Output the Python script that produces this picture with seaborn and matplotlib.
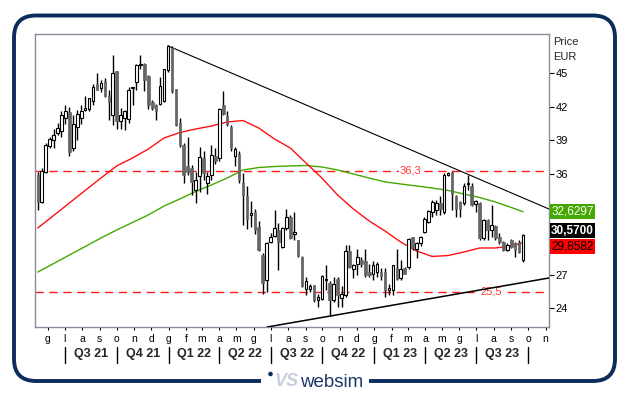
import pandas as pd
import seaborn as sns
import matplotlib
matplotlib.use("Agg")
import matplotlib.pyplot as plt
import matplotlib.transforms as mtransforms
from matplotlib.patches import FancyBboxPatch, Rectangle, Circle

sns.set_style("white")
plt.rcParams['font.family'] = ['Liberation Sans', 'DejaVu Sans']

# weekly candles
first_week = "2021-05-14"
opens = [35.9, 33.5, 36.2, 38.5, 39.0, 39.7, 39.8, 41.0, 41.5, 38.3,
         40.2, 41.0, 41.7, 41.8, 42.5, 44.0, 43.7, 44.3, 43.0, 41.3,
         45.2, 40.7, 41.0, 40.9, 43.7, 44.2, 45.7, 45.85, 44.75, 42.4,
         42.2, 42.3, 42.5, 45.3, 47.3, 43.6, 40.6, 38.6, 36.7, 36.5,
         34.6, 35.8, 37.4, 35.2, 35.9, 37.6, 37.4, 42.2, 41.2, 40.2,
         37.6, 37.8, 35.2, 34.0, 32.3, 32.6, 31.3, 28.8, 26.5, 29.9,
         30.5, 31.0, 29.5, 31.15, 32.2, 30.6, 30.1, 28.6, 25.7, 25.7,
         26.1, 24.7, 24.8, 26.5, 26.3, 24.7, 26.6, 24.9, 25.2, 29.15,
         27.5, 28.0, 28.3, 28.2, 27.2, 27.1, 27.2, 27.2, 27.2, 25.6,
         25.6, 27.6, 26.7, 27.6, 27.7, 30.35, 29.3, 29.8, 30.85, 31.7,
         32.6, 32.8, 33.4, 32.6, 35.9, 36.2, 34.0, 33.5, 33.4, 35.1,
         34.9, 33.3, 33.4, 30.25, 31.9, 31.0, 31.35, 30.4, 29.95, 29.25,
         30.1, 29.8, 29.95, 28.3]
highs = [36.2, 36.5, 38.8, 39.3, 40.0, 40.6, 41.6, 42.2, 42.0, 41.3,
         41.7, 42.2, 43.0, 42.8, 44.0, 45.0, 44.4, 44.6, 43.5, 46.6,
         45.2, 41.9, 41.7, 43.8, 43.8, 45.8, 46.6, 45.9, 44.85, 42.6,
         42.3, 44.7, 45.4, 47.5, 47.45, 43.6, 41.0, 38.75, 39.3, 36.8,
         36.2, 38.4, 38.1, 36.2, 38.6, 38.3, 41.9, 43.4, 41.6, 40.4,
         38.4, 38.1, 36.1, 34.9, 33.6, 32.9, 31.8, 28.9, 29.9, 30.7,
         32.8, 31.65, 31.3, 32.9, 32.3, 32.6, 30.1, 28.65, 26.8, 26.2,
         26.1, 25.3, 27.0, 27.9, 26.4, 26.8, 26.8, 26.0, 29.7, 29.7,
         28.0, 29.3, 28.6, 29.3, 28.0, 28.2, 28.1, 27.6, 27.6, 26.2,
         27.9, 29.3, 28.3, 27.7, 30.3, 30.4, 29.95, 30.5, 32.2, 32.8,
         33.7, 33.7, 34.0, 36.1, 36.2, 36.25, 34.1, 33.6, 35.2, 35.9,
         35.2, 33.7, 33.5, 32.0, 32.0, 33.2, 31.4, 30.7, 30.0, 29.8,
         30.15, 29.95, 30.1, 30.6]
lows = [32.8, 33.4, 36.1, 38.3, 38.3, 39.5, 39.3, 40.5, 37.6, 38.1,
        39.0, 40.5, 41.6, 41.6, 42.2, 43.5, 43.3, 42.9, 40.8, 40.4,
        40.0, 40.0, 39.9, 40.6, 42.2, 43.5, 45.4, 43.4, 41.8, 41.7,
        40.8, 42.2, 42.4, 45.1, 43.2, 40.3, 38.4, 35.2, 35.9, 34.1,
        33.4, 34.4, 35.5, 34.2, 35.5, 36.9, 37.2, 41.3, 40.3, 38.1,
        36.7, 35.2, 31.4, 31.1, 31.3, 30.6, 29.1, 25.3, 25.5, 29.8,
        30.4, 27.4, 29.4, 31.0, 30.2, 30.1, 28.6, 25.9, 25.2, 25.5,
        24.6, 24.1, 24.7, 25.6, 23.3, 24.6, 24.1, 24.1, 25.0, 27.6,
        26.7, 27.0, 27.7, 26.8, 26.8, 26.5, 26.8, 26.5, 25.0, 25.2,
        25.2, 26.5, 26.5, 27.1, 27.5, 29.2, 28.5, 29.6, 30.7, 31.6,
        32.2, 32.3, 32.3, 32.4, 35.8, 32.8, 32.2, 32.2, 33.2, 34.6,
        33.1, 32.6, 30.1, 30.1, 30.1, 30.4, 30.1, 29.75, 29.15, 29.1,
        29.4, 28.55, 28.9, 28.1]
closes = [33.5, 36.3, 38.6, 39.1, 39.5, 40.1, 41.3, 41.6, 38.0, 40.5,
          41.4, 41.6, 41.9, 42.8, 43.8, 43.5, 44.1, 43.0, 42.4, 45.0,
          40.7, 41.3, 41.6, 43.5, 43.8, 45.7, 45.85, 44.4, 42.2, 41.9,
          41.6, 43.9, 45.4, 47.4, 43.4, 40.4, 38.6, 35.9, 36.2, 35.3,
          35.5, 37.5, 36.1, 35.8, 37.7, 37.2, 41.8, 41.4, 40.5, 38.3,
          38.2, 35.5, 34.1, 32.0, 32.5, 31.0, 29.2, 26.3, 29.85, 30.4,
          31.2, 29.9, 31.15, 32.2, 30.3, 30.8, 28.7, 26.0, 26.4, 26.0,
          24.7, 25.0, 26.9, 26.55, 24.7, 26.2, 25.2, 25.3, 29.15, 27.7,
          27.9, 28.6, 27.95, 27.0, 27.0, 27.9, 28.0, 26.9, 25.6, 25.8,
          27.9, 26.6, 27.5, 27.1, 30.2, 29.4, 29.8, 30.4, 32.0, 32.7,
          33.5, 33.4, 32.9, 35.9, 36.05, 34.2, 32.9, 32.9, 34.9, 35.2,
          33.2, 33.6, 30.25, 31.9, 31.0, 31.4, 30.25, 29.9, 29.25, 29.65,
          29.45, 29.2, 29.05, 30.57]

# moving averages, sampled every 4 weeks (+ last week)
ma_weeks = list(range(0, 124, 4)) + [123]
ma_red = [31.18, 32.29, 33.41, 34.53, 35.64, 36.72, 37.43, 38.23, 39.22, 39.71,
          40.02, 40.29, 40.65, 40.78, 40.11, 39.13, 38.32, 36.98, 35.64, 34.12,
          32.87, 31.80, 30.91, 29.92, 29.12, 28.63, 28.72, 29.03, 29.39, 29.39,
          29.57, 29.86]
ma_green = [27.24, 28.00, 28.76, 29.52, 30.28, 31.00, 31.67, 32.34, 33.14, 33.77,
            34.44, 35.02, 35.64, 36.36, 36.58, 36.67, 36.72, 36.76, 36.63, 36.36,
            36.00, 35.64, 35.29, 35.11, 34.93, 34.75, 34.53, 34.21, 33.90, 33.50,
            33.01, 32.63]

# trend lines and horizontal levels
trend_hi_dates = ["2021-12-31", "2023-11-07"]
trend_hi_vals = [47.45, 32.87]
trend_lo_dates = ["2022-06-25", "2023-11-07"]
trend_lo_vals = [22.33, 26.71]
levels = [36.3, 25.5]
level_labels = ["36,3", "25,5"]
level_label_dates = ["2023-03-07", "2023-07-27"]

last_labels = ["32,6297", "30,5700", "29,8582"]

y_ticks = [24, 27, 30, 33, 36, 39, 42, 45]
y_ticklabels = ["24", "27", "", "", "36", "39", "42", "45"]  # 30 and 33 sit under the value boxes
month_labels = ["g", "l", "a", "s", "o", "n", "d", "g", "f", "m", "a", "m",
                "g", "l", "a", "s", "o", "n", "d", "g", "f", "m", "a", "m",
                "g", "l", "a", "s", "o", "n"]
quarter_labels = ["Q3 21", "Q4 21", "Q1 22", "Q2 22", "Q3 22", "Q4 22",
                  "Q1 23", "Q2 23", "Q3 23"]

dates = pd.date_range(first_week, periods=len(closes), freq="7D")
df = pd.DataFrame({"date": dates, "open": opens, "high": highs,
                   "low": lows, "close": closes})
ma = pd.DataFrame({"date": dates[ma_weeks], "red": ma_red, "green": ma_green})

navy = "#0c2c5c"
fig = plt.figure(figsize=(6.29, 3.95), dpi=100, facecolor="white")

# frame, logo (pixel coordinates)
bg = fig.add_axes([0, 0, 1, 1])
bg.set_xlim(0, 629)
bg.set_ylim(395, 0)
bg.axis("off")
bg.add_patch(FancyBboxPatch((14, 15.5), 601, 365.5,
                            boxstyle="round,pad=0,rounding_size=22",
                            fc="none", ec=navy, lw=2.8))
bg.add_patch(Rectangle((261, 374), 108, 14, fc="white", ec="none", zorder=3))
bg.add_patch(Circle((270.5, 374), 2.3, fc=navy, ec="none", zorder=4))
bg.text(286, 382, "VS", ha="center", va="center", fontsize=13,
        fontweight="bold", fontstyle="italic", color="#c5d0de", zorder=4)
bg.text(300, 382.5, "websim", ha="left", va="center", fontsize=13.5,
        color="#1d3868", zorder=4)

ax = fig.add_axes([35 / 629, 1 - 327 / 395, 514 / 629, 293 / 395])
ax.set_facecolor("white")

# moving averages
sns.lineplot(data=ma, x="date", y="green", color="#44a800", lw=1, ax=ax)
sns.lineplot(data=ma, x="date", y="red", color="#ff1010", lw=1, ax=ax)

# levels
for lv, lab, ld in zip(levels, level_labels, level_label_dates):
    ax.axhline(lv, color="#ff1a1a", lw=1, ls=(0, (6, 4)), zorder=1)
    ax.text(pd.Timestamp(ld), lv, lab, ha="center", va="center", fontsize=8,
            color="#ff3a3a", zorder=2,
            bbox=dict(boxstyle="square,pad=0.05", fc="white", ec="none"))

# trend lines
ax.plot(pd.to_datetime(trend_hi_dates), trend_hi_vals, color="black", lw=0.8, zorder=3)
ax.plot(pd.to_datetime(trend_lo_dates), trend_lo_vals, color="black", lw=1.1, zorder=3)

# candles
up = df["close"] >= df["open"]
ax.vlines(df["date"], df["low"], df["high"], color="black", lw=1, zorder=4)
body_lo = df[["open", "close"]].min(axis=1)
body_h = (df["close"] - df["open"]).abs().clip(lower=0.08)
ax.bar(df["date"][up], body_h[up], bottom=body_lo[up], width=4.6,
       color="white", edgecolor="black", lw=0.8, zorder=5)
ax.bar(df["date"][~up], body_h[~up], bottom=body_lo[~up], width=4.6,
       color="#666666", edgecolor="#666666", lw=0.5, zorder=5)

ax.set_xlim(pd.Timestamp("2021-05-09"), pd.Timestamp("2023-11-07"))
ax.set_ylim(22.33, 48.51)
ax.set_xlabel("")
ax.set_ylabel("")

for s in ax.spines.values():
    s.set_color("#8a8a9c")
    s.set_linewidth(1)

ax.yaxis.tick_right()
ax.set_yticks(y_ticks)
ax.set_yticklabels(y_ticklabels)
ax.tick_params(axis="y", right=True, direction="out", length=3.5, width=0.8,
               pad=1.2, labelsize=8, colors="black")
ax.text(1.008, 0.972, "Price", transform=ax.transAxes, fontsize=8, va="center")
ax.text(1.008, 0.92, "EUR", transform=ax.transAxes, fontsize=8, va="center")

month_starts = pd.date_range("2021-06-01", "2023-11-01", freq="MS")
ax.set_xticks(month_starts)
ax.set_xticklabels(month_labels)
ax.tick_params(axis="x", bottom=True, direction="out", length=2.5, width=0.8,
               pad=2.5, labelsize=7.5, colors="black")

# quarter band under the months
q_starts = pd.date_range("2021-07-01", "2024-01-01", freq="QS")
blend = mtransforms.blended_transform_factory(ax.transData, fig.transFigure)
for qs in q_starts[:10]:
    ax.plot([qs, qs], [0.081, 0.1215], color="black", lw=1,
            transform=blend, clip_on=False)
for i, lab in enumerate(quarter_labels):
    mid = q_starts[i] + (q_starts[i + 1] - q_starts[i]) / 2
    ax.text(mid, 0.1045, lab, transform=blend, ha="center", va="center",
            fontsize=9, fontweight="bold")

# last value boxes
last_vals = [ma_green[-1], closes[-1], ma_red[-1]]
box_fc = ["#44a800", "black", "#ff0000"]
box_tc = ["white", "white", "black"]
box_w = ["normal", "bold", "normal"]
box_dy = [0, 3, -2.5]
ytrans = mtransforms.blended_transform_factory(ax.transAxes, ax.transData)
for v, lab, fc, tc, fw, dy in zip(last_vals, last_labels, box_fc, box_tc, box_w, box_dy):
    ax.annotate(lab, (1.0, v), xycoords=ytrans, xytext=(1.5, dy),
                textcoords="offset points", ha="left", va="center",
                fontsize=8.5, color=tc, fontweight=fw, zorder=10,
                annotation_clip=False,
                bbox=dict(boxstyle="square,pad=0.12", fc=fc, ec="none"))

fig.savefig("out.png", dpi=100, facecolor="white")
